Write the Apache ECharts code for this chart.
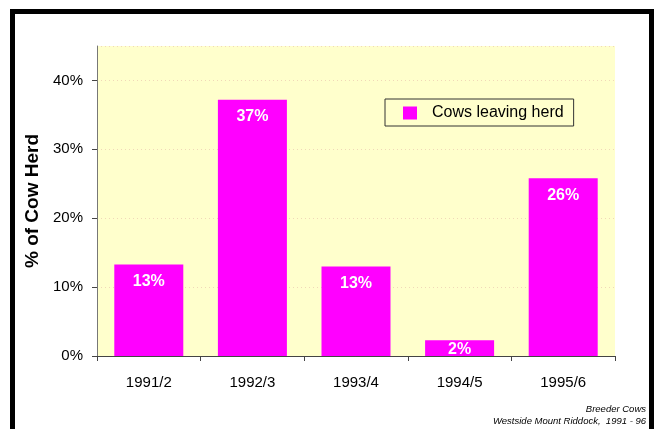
<!DOCTYPE html>
<html>
<head>
<meta charset="utf-8">
<script src="https://cdn.jsdelivr.net/npm/echarts@6/dist/echarts.min.js"></script>
<style>
html,body{margin:0;padding:0;background:#fff;}
#chart{width:657px;height:429px;}
</style>
</head>
<body>
<div id="chart"></div>
<script>
var categories = ['1991/2', '1992/3', '1993/4', '1994/5', '1995/6'];
var cowsLeaving = [13.3, 37.2, 13.0, 2.3, 25.8];
var valueLabels = ['13%', '37%', '13%', '2%', '26%'];
var seriesName = 'Cows leaving herd';
var yTitle = '% of Cow Herd';
var footnote = ['Breeder Cows', 'Westside Mount Riddock,  1991 - 96'];

var chart = echarts.init(document.getElementById('chart'));
var font = 'Arial, "Liberation Sans", sans-serif';
var barData = cowsLeaving.map(function (v) {
  return v < 5 ? { value: v, label: { distance: 1 } } : { value: v };
});
chart.setOption({
  animation: false,
  backgroundColor: '#ffffff',
  textStyle: { fontFamily: font },
  grid: { left: 97, top: 46, right: 42, bottom: 73, show: true, backgroundColor: '#FFFFCC', borderWidth: 0 },
  legend: {
    data: [seriesName],
    left: 385, top: 99,
    padding: [6, 10, 5, 18],
    borderColor: '#333', borderWidth: 1,
    backgroundColor: '#FFFFCC',
    itemWidth: 14, itemHeight: 13,
    icon: 'rect',
    textStyle: { fontSize: 16, color: '#000', fontFamily: font, padding: [0, 0, 0, 10] }
  },
  xAxis: {
    type: 'category',
    data: categories,
    axisLine: { lineStyle: { color: '#444', width: 1 } },
    axisTick: { show: true, length: 5, lineStyle: { color: '#444' } },
    axisLabel: { fontSize: 15, color: '#000', margin: 19, fontFamily: font }
  },
  yAxis: {
    type: 'value',
    min: 0, max: 45, interval: 10,
    name: yTitle,
    nameLocation: 'middle',
    nameGap: 54,
    nameTextStyle: { fontSize: 19, fontWeight: 'bold', color: '#000', fontFamily: font },
    axisLine: { show: true, lineStyle: { color: '#777', width: 1 } },
    axisTick: { show: true, length: 5, lineStyle: { color: '#444' } },
    axisLabel: { fontSize: 15, color: '#000', margin: 14, showMaxLabel: false, formatter: '{value}%', fontFamily: font },
    splitLine: { show: true, lineStyle: { color: '#F0D8B8', type: [1, 3], width: 1 } }
  },
  series: [{
    name: seriesName,
    type: 'bar',
    data: barData,
    barWidth: 69,
    itemStyle: { color: '#FF00FF' },
    label: {
      show: true,
      position: 'insideTop',
      distance: 9,
      color: '#fff',
      fontSize: 16,
      fontWeight: 'bold',
      fontFamily: font,
      formatter: function (p) { return valueLabels[p.dataIndex]; }
    }
  }],
  graphic: [
    { type: 'rect', shape: { x: 12.5, y: 11.5, width: 639, height: 500 }, style: { fill: 'none', stroke: '#000', lineWidth: 5 }, z: 100 },
    { type: 'text', right: 11, top: 404, style: { text: footnote[0], font: 'italic 9.5px ' + font, fill: '#000', textAlign: 'right' } },
    { type: 'text', right: 11, top: 416, style: { text: footnote[1], font: 'italic 9.5px ' + font, fill: '#000', textAlign: 'right' } }
  ]
});
</script>
</body>
</html>
